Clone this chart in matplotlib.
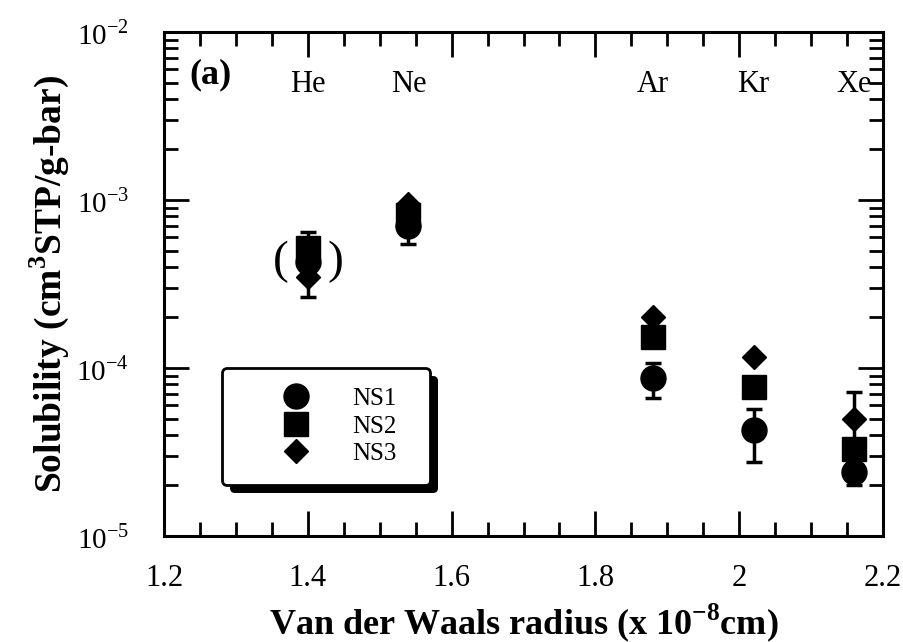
import matplotlib
matplotlib.use("Agg")
import matplotlib.pyplot as plt
import matplotlib.ticker as mticker
import matplotlib.patheffects as pe
import numpy as np

plt.rcParams['font.family'] = ['Liberation Serif', 'DejaVu Serif']
plt.rcParams['mathtext.fontset'] = 'custom'
plt.rcParams['mathtext.rm'] = 'Liberation Serif'
plt.rcParams['mathtext.bf'] = 'Liberation Serif:bold'

# Van der Waals radius (x 1e-8 cm) of He, Ne, Ar, Kr, Xe
elements = ['He', 'Ne', 'Ar', 'Kr', 'Xe']
radius = [1.40, 1.54, 1.88, 2.02, 2.16]

# solubility (cm3 STP / g-bar)
ns1 = [4.3e-4, 7.0e-4, 8.7e-5, 4.3e-5, 2.4e-5]
ns2 = [5.2e-4, 8.1e-4, 1.53e-4, 7.7e-5, 3.3e-5]
ns3 = [3.5e-4, 9.5e-4, 2.0e-4, 1.16e-4, 5.0e-5]

# error bars on NS1 (lower / upper ends)
ns1_low = [2.65e-4, 5.5e-4, 6.6e-5, 2.75e-5, 2.0e-5]
ns1_high = [6.45e-4, 8.5e-4, 1.07e-4, 5.7e-5, 7.2e-5]

fig = plt.figure(figsize=(9.04, 6.42), dpi=100)
ax = fig.add_axes([0.1814, 0.1651, 0.7954, 0.785])

yerr = [np.array(ns1) - np.array(ns1_low), np.array(ns1_high) - np.array(ns1)]
ax.errorbar(radius, ns1, yerr=yerr, fmt='none', ecolor='k', elinewidth=2.5,
            capsize=5.5, capthick=2.5, zorder=2)
ax.plot(radius, ns1, 'ko', ms=18, ls='none', label='NS1', zorder=3)
ax.plot(radius, ns2, 'ks', ms=17, ls='none', label='NS2', zorder=3)
ax.plot(radius, ns3, 'kD', ms=12.5, ls='none', label='NS3', zorder=3)

ax.set_yscale('log')
ax.set_xlim(1.2, 2.2)
ax.set_ylim(1e-5, 1e-2)

ax.xaxis.set_major_locator(mticker.MultipleLocator(0.2))
ax.xaxis.set_minor_locator(mticker.MultipleLocator(0.05))
ax.xaxis.set_major_formatter(mticker.FuncFormatter(lambda v, p: f'{v:g}'))
ax.yaxis.set_major_locator(mticker.LogLocator(base=10))
ax.yaxis.set_minor_locator(mticker.LogLocator(base=10, subs=np.arange(2, 10)))
ax.yaxis.set_minor_formatter(mticker.NullFormatter())
ax.yaxis.set_major_formatter(mticker.FuncFormatter(
    lambda v, p: r'$10^{%d}$' % round(np.log10(v))))

ax.tick_params(which='both', direction='in', top=True, right=True, width=2,
               color='k')
ax.tick_params(axis='x', which='both', pad=20, labelsize=22)
ax.tick_params(axis='y', which='both', pad=25, labelsize=21)
ax.tick_params(which='major', length=18)
ax.tick_params(which='minor', length=10)
for s in ax.spines.values():
    s.set_linewidth(2.2)

ax.set_xlabel(r'Van der Waals radius (x 10$^{\mathbf{-8}}$cm)', fontsize=26,
              fontweight='bold')
ax.xaxis.set_label_coords(0.5, -0.129)
ax.set_ylabel(r'Solubility (cm$^{\mathbf{3}}$STP/g-bar)', fontsize=27,
              fontweight='bold', labelpad=4)

for name, r in zip(elements, radius):
    ax.text(r, 4.9e-3, name, ha='center', va='center', fontsize=22)
ax.text(0.036, 0.915, '(a)', transform=ax.transAxes, ha='left', va='center',
        fontsize=26, fontweight='bold')

# brackets around the He points
ax.text(radius[0] - 0.038, ns1[0], '(', ha='center', va='center', fontsize=34)
ax.text(radius[0] + 0.038, ns1[0], ')', ha='center', va='center', fontsize=34)

leg = ax.legend(loc='lower left', bbox_to_anchor=(0.0807, 0.101, 0.289, 0.2),
                mode='expand', fontsize=18, frameon=True, fancybox=True,
                edgecolor='k', framealpha=1, handletextpad=0.1,
                borderpad=0.8, labelspacing=0.2, handlelength=4.3,
                borderaxespad=0)
leg.get_frame().set_linewidth(2)
leg.get_frame().set_path_effects([
    pe.SimplePatchShadow(offset=(6, -6), shadow_rgbFace='k', alpha=1),
    pe.Normal()])

fig.savefig('out.png', dpi=100)
